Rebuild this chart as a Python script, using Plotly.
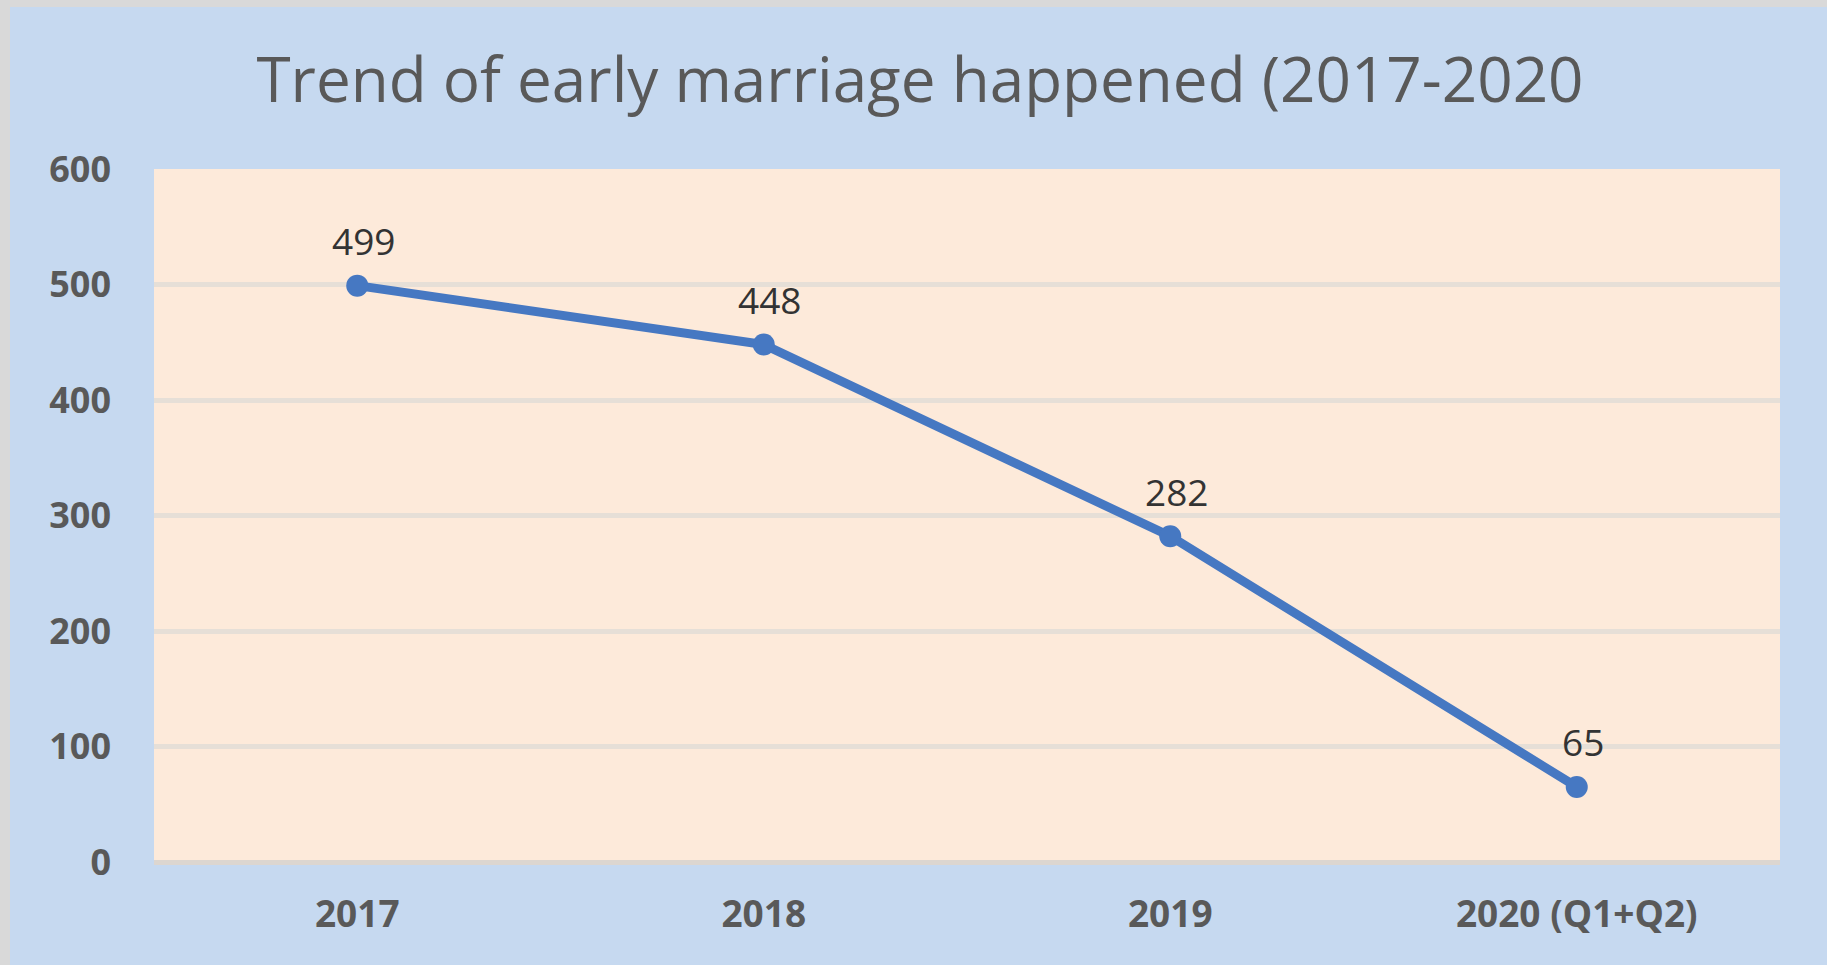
import plotly.graph_objects as go

# chart data
years = ["2017", "2018", "2019", "2020 (Q1+Q2)"]
cases = [499, 448, 282, 65]
y_ticks = [0, 100, 200, 300, 400, 500, 600]

title_text = "Trend of early marriage happened (2017-2020"

W, H = 1827, 965
ml, mr, mt, mb = 154, 47, 169, 103
plot_w = W - ml - mr
plot_h = H - mt - mb

fig = go.Figure()

fig.add_trace(go.Scatter(
    x=years,
    y=cases,
    mode="lines+markers",
    line=dict(color="#4678C2", width=9),
    marker=dict(color="#4678C2", size=22),
    cliponaxis=False,
    hoverinfo="x+y",
))

# value labels above the points (x given as category index, since
# "2017" on its own would be read as position 2017)
for i, v in enumerate(cases):
    fig.add_annotation(
        x=i, y=v, text=str(v), showarrow=False,
        yshift=45, xshift=6,
        font=dict(family="Open Sans", size=37, color="#333333"),
    )

# thin grey frame on the left and top of the picture
fig.add_shape(type="rect", xref="paper", yref="paper",
              x0=-ml / plot_w, x1=(10 - ml) / plot_w,
              y0=-mb / plot_h, y1=1 + mt / plot_h,
              fillcolor="#D9D9D9", line_width=0, layer="below")
fig.add_shape(type="rect", xref="paper", yref="paper",
              x0=-ml / plot_w, x1=1 + mr / plot_w,
              y0=1 + (mt - 7) / plot_h, y1=1 + mt / plot_h,
              fillcolor="#D9D9D9", line_width=0, layer="below")

fig.update_layout(
    width=W,
    height=H,
    margin=dict(l=ml, r=mr, t=mt, b=mb),
    paper_bgcolor="#C6D9F0",
    plot_bgcolor="#FDEADA",
    showlegend=False,
    title=dict(
        text=title_text,
        x=920 / W, xref="container", xanchor="center",
        y=1 - 80 / H, yref="container", yanchor="middle",
        font=dict(family="Open Sans", size=62, color="#595959"),
    ),
    font=dict(family="Open Sans", color="#595959"),
)

fig.update_xaxes(
    type="category",
    range=[-0.5, len(years) - 0.5],
    showgrid=False,
    zeroline=False,
    showline=False,
    ticks="",
    ticklabelstandoff=27,
    tickfont=dict(family="Open Sans", size=37, color="#595959", weight="bold"),
)

fig.update_yaxes(
    range=[0, 600],
    tickvals=y_ticks,
    showgrid=True,
    gridcolor="#E6DFD7",
    gridwidth=5,
    zeroline=True,
    zerolinecolor="#DCD6D0",
    zerolinewidth=5,
    showline=False,
    ticks="",
    ticklabelstandoff=42,
    tickfont=dict(family="Open Sans", size=36, color="#595959", weight="bold"),
)

fig.write_html("out.html", config={"displayModeBar": False},
               post_script="document.body.style.margin='0';")
